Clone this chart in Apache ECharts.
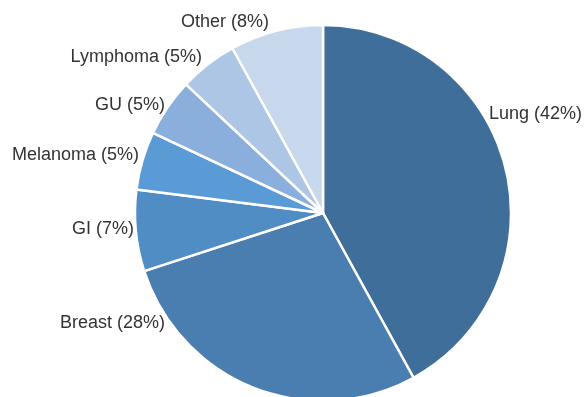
<!DOCTYPE html>
<html>
<head>
<meta charset="utf-8">
<script src="https://cdn.jsdelivr.net/npm/echarts@6/dist/echarts.min.js"></script>
<style>
  html, body { margin: 0; padding: 0; background: #fff; }
  #chart { width: 586px; height: 397px; }
</style>
</head>
<body>
<div id="chart"></div>
<script>
// Cancer types and their share of cases (%)
const categories = ['Lung', 'Breast', 'GI', 'Melanoma', 'GU', 'Lymphoma', 'Other'];
const shares = [42, 28, 7, 5, 5, 5, 8];

// Slice fills, darkest to lightest
const sliceColors = ['#3e6e99', '#4a7db0', '#508dc4', '#5a9bd6', '#8aafdc', '#aec6e6', '#c7d7ec'];

// Label anchor points [x, y, align]
const labelAnchors = [
  [489, 114, 'left'],
  [165, 323, 'right'],
  [134, 229, 'right'],
  [139, 155, 'right'],
  [165, 105, 'right'],
  [202, 57, 'right'],
  [269, 22, 'right']
];

const chart = echarts.init(document.getElementById('chart'), null, { renderer: 'canvas' });

chart.setOption({
  animation: false,
  backgroundColor: '#ffffff',
  series: [{
    type: 'pie',
    center: [323, 213],
    radius: 188,
    startAngle: 90,
    clockwise: true,
    avoidLabelOverlap: false,
    itemStyle: { borderColor: '#ffffff', borderWidth: 2.5 },
    label: {
      show: true,
      position: 'outside',
      formatter: p => p.name + ' (' + p.value + '%)',
      fontFamily: 'Liberation Sans, Arial, sans-serif',
      fontSize: 18,
      color: '#333333'
    },
    labelLine: { show: false },
    labelLayout: params => {
      const a = labelAnchors[params.dataIndex];
      return { x: a[0], y: a[1], align: a[2], verticalAlign: 'middle' };
    },
    emphasis: { disabled: true },
    data: categories.map((name, i) => ({
      name: name,
      value: shares[i],
      itemStyle: { color: sliceColors[i] }
    }))
  }]
});
</script>
</body>
</html>
